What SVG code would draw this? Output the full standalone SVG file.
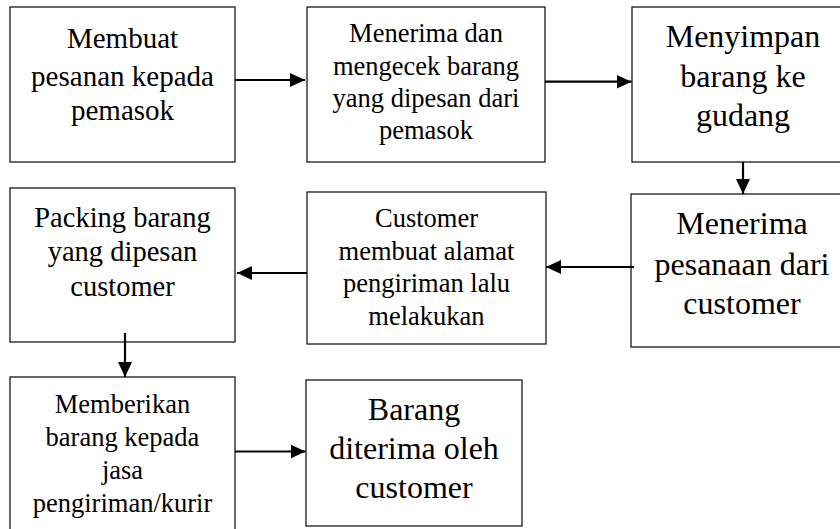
<svg xmlns="http://www.w3.org/2000/svg" width="840" height="529" viewBox="0 0 840 529">
<style>
.box{fill:#fff;stroke:#1a1a1a;stroke-width:1.3}
.t{font-family:"Liberation Serif","Times New Roman",serif;fill:#000;text-anchor:middle}
.c{stroke:#000;stroke-width:2.2;fill:none;marker-end:url(#ah)}
</style>
<defs>
<marker id="ah" markerUnits="userSpaceOnUse" markerWidth="16" markerHeight="16" viewBox="0 0 16 16" refX="15" refY="8" orient="auto">
<path d="M0,1 L15,8 L0,15 Z" fill="#000"/>
</marker>
</defs>
<rect width="840" height="529" fill="#fff"/>
<g id="n1">
<rect class="box" x="10" y="7" width="225" height="155"/>
<text class="t" font-size="29"><tspan x="122.5" y="47.5">Membuat</tspan><tspan x="122.5" y="85.5">pesanan kepada</tspan><tspan x="122.5" y="120">pemasok</tspan></text>
</g>
<g id="n2">
<rect class="box" x="307" y="7" width="238" height="155"/>
<text class="t" font-size="26.5"><tspan x="426" y="41.7">Menerima dan</tspan><tspan x="426" y="75">mengecek barang</tspan><tspan x="426" y="106.7">yang dipesan dari</tspan><tspan x="426" y="139">pemasok</tspan></text>
</g>
<g id="n3">
<rect class="box" x="632" y="7" width="222" height="155"/>
<text class="t" font-size="32"><tspan x="743" y="47">Menyimpan</tspan><tspan x="743" y="87">barang ke</tspan><tspan x="743" y="125.5">gudang</tspan></text>
</g>
<g id="n4">
<rect class="box" x="631" y="194" width="222" height="153"/>
<text class="t" font-size="32"><tspan x="742" y="234">Menerima</tspan><tspan x="742" y="275">pesanaan dari</tspan><tspan x="742" y="314">customer</tspan></text>
</g>
<g id="n5">
<rect class="box" x="307" y="192" width="239" height="152"/>
<text class="t" font-size="26.5"><tspan x="426.5" y="226.7">Customer</tspan><tspan x="426.5" y="260">membuat alamat</tspan><tspan x="426.5" y="291.7">pengiriman lalu</tspan><tspan x="426.5" y="325">melakukan</tspan></text>
</g>
<g id="n6">
<rect class="box" x="10" y="188" width="225" height="154"/>
<text class="t" font-size="28.5"><tspan x="122.5" y="226.5">Packing barang</tspan><tspan x="122.5" y="261">yang dipesan</tspan><tspan x="122.5" y="295.5">customer</tspan></text>
</g>
<g id="n7">
<rect class="box" x="10" y="377" width="225" height="170"/>
<text class="t" font-size="26.5"><tspan x="122.5" y="413">Memberikan</tspan><tspan x="122.5" y="446">barang kepada</tspan><tspan x="122.5" y="478.5">jasa</tspan><tspan x="122.5" y="511.5">pengiriman/kurir</tspan></text>
</g>
<g id="n8">
<rect class="box" x="306" y="380" width="216" height="146"/>
<text class="t" font-size="32"><tspan x="414" y="420">Barang</tspan><tspan x="414" y="459">diterima oleh</tspan><tspan x="414" y="498">customer</tspan></text>
</g>
<g id="connectors">
<line class="c" x1="235" y1="80" x2="305" y2="80"/>
<line class="c" x1="545" y1="81.7" x2="631.5" y2="81.7"/>
<line class="c" x1="743" y1="162" x2="743" y2="194"/>
<line class="c" x1="634" y1="267" x2="546" y2="267"/>
<line class="c" x1="307" y1="273" x2="237" y2="273"/>
<line class="c" x1="125" y1="333" x2="125" y2="377"/>
<line class="c" x1="235" y1="451.5" x2="305.5" y2="451.5"/>
</g>
</svg>
